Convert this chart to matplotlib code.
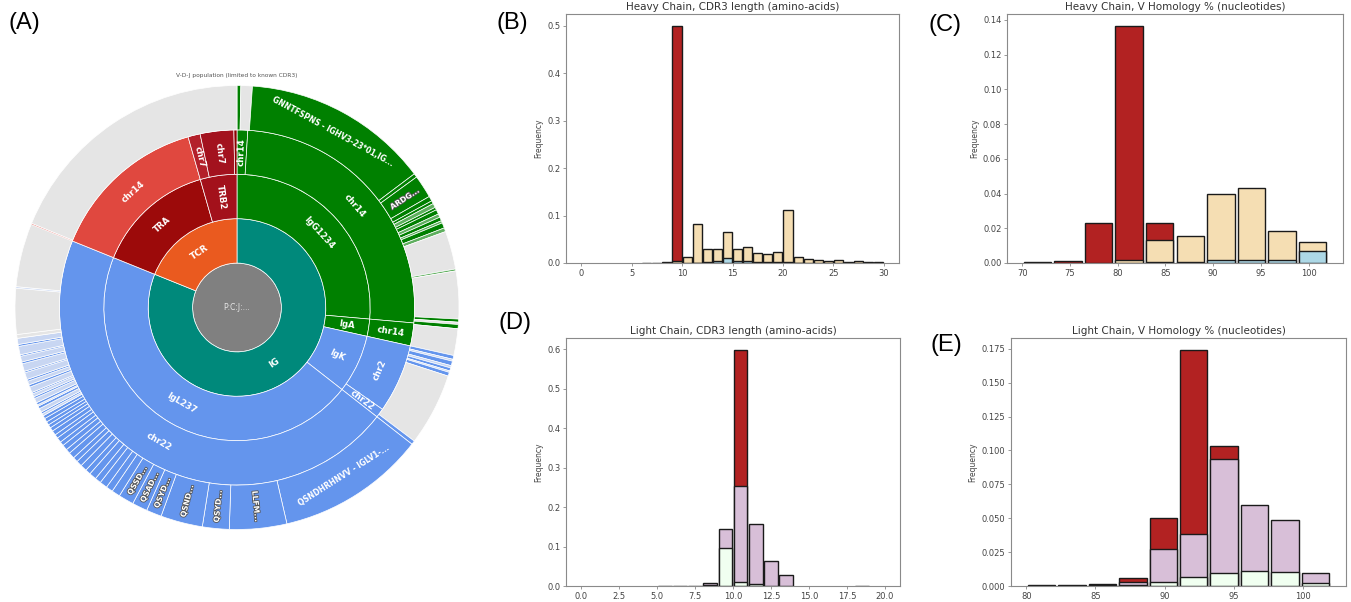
import numpy as np
import matplotlib
matplotlib.use("Agg")
import matplotlib.pyplot as plt
import matplotlib.patheffects as pe
from matplotlib.ticker import FormatStrFormatter

GREEN = "#008000"
BLUE = "#6495ED"
LEAF_COLORS = {"g": GREEN, "lg": "#5FAF5F", "e": "#E5E5E5", "b": BLUE,
               "p": "#C8D6F2", "r": "#E0443C"}

# ---------------- (A) sunburst: angular shares in degrees, clockwise from 12 o'clock
center_label = "P:C:J:..."

ring1_labels = ["IG", "TCR"]
ring1_sizes = [292, 68]
ring1_colors = ["#00897B", "#EA5A1F"]

ring2_labels = ["IgG1234", "IgA", "IgK", "IgL237", "TRA", "TRB2"]
ring2_sizes = [95, 7.5, 25.5, 164, 52, 16]
ring2_colors = [GREEN, GREEN, BLUE, BLUE, "#9C0A0A", "#A3111B"]

ring3_labels = ["chr14", "chr14", "chr14", "chr2", "chr22", "chr22", "chr14", "chr7", "chr7", ""]
ring3_sizes = [3.5, 91.5, 7.5, 22.5, 3, 164, 52, 4, 11, 1]
ring3_colors = [GREEN, GREEN, GREEN, BLUE, BLUE, BLUE, "#E0483F", "#B3202A", "#A3121E", "#8B0000"]

leaf_head_sizes = [1, 3, 49, 1, 6]
leaf_head_colors = ["g", "e", "g", "g", "g"]
leaf_head_labels = ["", "", "GNNTFSPNS - IGHV3-23*01,IG...", "", "ARDG..."]

leaf_green_fringe = [1.3, 0.8, 1.1, 0.7, 1.2, 0.9, 1.0, 0.6, 1.4, 1.0]
leaf_green_colors = ["g", "g", "lg", "g", "g", "lg", "g", "lg", "g", "lg"]

leaf_mid_sizes = [10, 0.5, 12.5, 0.8, 0.6, 1.1, 7, 1.0, 0.5, 1.2, 0.6, 0.8, 0.4, 1.0,
                  19, 1, 39, 15, 7, 11, 4, 4, 4]
leaf_mid_colors = ["e", "lg", "e", "g", "e", "g", "e", "b", "p", "b", "p", "b", "p", "b",
                   "e", "b", "b", "b", "b", "b", "b", "b", "b"]
leaf_mid_labels = [""] * 16 + ["QSNDHRHNVV - IGLV1-...", "LLFM...", "QSYD...", "QSND...",
                               "QSYD...", "QSAD...", "QSSD..."]

leaf_blue_fringe = [2.2, 1.8, 2.0, 1.6, 1.9, 1.4, 1.7, 1.5, 1.3, 1.6,
                    1.2, 1.4, 1.1, 1.3, 1.0, 1.2, 1.0, 0.9, 0.9, 1.0]
leaf_mixed_fringe = [0.8, 0.6, 0.5, 1.0, 0.7, 0.4, 0.6, 1.2, 0.5, 0.8, 0.4, 1.5,
                     0.6, 1.0, 0.5, 1.8, 0.4, 2.0, 0.5, 1.5, 0.4, 2.2, 0.5, 1.6, 1.0]

leaf_tail_sizes = [12, 0.4, 16.6, 0.3, 67.7]
leaf_tail_colors = ["e", "p", "e", "r", "e"]

ring4_sizes = (leaf_head_sizes + leaf_green_fringe + leaf_mid_sizes
               + leaf_blue_fringe + leaf_mixed_fringe + leaf_tail_sizes)
ring4_colors = [LEAF_COLORS[c] for c in
                leaf_head_colors + leaf_green_colors + leaf_mid_colors
                + ["b"] * len(leaf_blue_fringe) + ["b", "p"] * 12 + ["e"]
                + leaf_tail_colors]
ring4_labels = (leaf_head_labels + [""] * len(leaf_green_fringe) + leaf_mid_labels
                + [""] * (len(leaf_blue_fringe) + len(leaf_mixed_fringe) + len(leaf_tail_sizes)))

# ---------------- (B)-(E) histograms
b_edges = np.arange(0, 31)
b_red = [0, 0, 0, 0, 0, 0, 0, 0, 0, 0.500, 0, 0, 0, 0, 0, 0, 0, 0, 0, 0,
         0, 0, 0, 0, 0, 0, 0, 0, 0, 0]
b_tan = [0, 0, 0, 0, 0, 0, 0.001, 0.001, 0.002, 0.004, 0.013, 0.083, 0.030, 0.029, 0.065,
         0.030, 0.033, 0.022, 0.018, 0.024, 0.111, 0.013, 0.008, 0.007, 0.004, 0.006,
         0.003, 0.004, 0.002, 0.002]
b_blue = [0, 0, 0, 0, 0, 0, 0, 0, 0, 0, 0, 0.001, 0.002, 0.004, 0.011, 0.005, 0.004,
          0.003, 0.002, 0.003, 0.003, 0.001, 0, 0, 0, 0, 0, 0, 0, 0]

c_edges = np.linspace(70, 102, 11)
c_red = [0.0005, 0.001, 0.023, 0.1365, 0.023, 0, 0, 0, 0, 0]
c_tan = [0, 0, 0, 0.002, 0.013, 0.0157, 0.0399, 0.0432, 0.0182, 0.0121]
c_blue = [0, 0, 0, 0, 0.0003, 0.0005, 0.002, 0.002, 0.0015, 0.0069]

d_edges = np.arange(0, 21)
d_red = [0, 0, 0, 0, 0, 0, 0, 0, 0, 0, 0.598, 0, 0, 0, 0, 0, 0, 0, 0, 0]
d_thistle = [0, 0, 0, 0, 0, 0.001, 0.001, 0.001, 0.007, 0.144, 0.252, 0.157, 0.064,
             0.027, 0, 0, 0, 0, 0.001, 0]
d_honey = [0, 0, 0, 0, 0, 0, 0, 0, 0.002, 0.097, 0.011, 0.004, 0, 0, 0, 0, 0, 0, 0, 0]

e_edges = np.linspace(80, 102, 11)
e_red = [0, 0, 0, 0.0059, 0.0503, 0.1743, 0.1036, 0, 0, 0]
e_thistle = [0.0005, 0.0007, 0.0015, 0.0029, 0.0275, 0.0385, 0.094, 0.060, 0.0484, 0.0098]
e_honey = [0, 0, 0.0005, 0.001, 0.0027, 0.0069, 0.0093, 0.0113, 0.0106, 0.002]

RING_W = 0.2


def draw_ring(ax, sizes, colors, labels, r_out, fs=6.0, outline=False):
    sizes = np.asarray(sizes, dtype=float)
    ax.pie(sizes, radius=r_out, colors=colors, startangle=90, counterclock=False,
           wedgeprops=dict(width=RING_W, edgecolor="white", linewidth=0.5))
    ends = np.cumsum(sizes)
    mids = 90 - (ends - sizes / 2)
    r_mid = r_out - RING_W / 2
    for lab, size, mid in zip(labels, sizes, mids):
        if not lab:
            continue
        radial = np.deg2rad(size) * r_mid < 0.25
        rot = mid if radial else mid - 90
        rot = (rot + 90) % 180 - 90
        t = ax.text(r_mid * np.cos(np.deg2rad(mid)), r_mid * np.sin(np.deg2rad(mid)), lab,
                    rotation=rot, rotation_mode="anchor", ha="center", va="center",
                    fontsize=fs, color="white", fontweight="bold")
        if outline and radial:
            t.set_path_effects([pe.withStroke(linewidth=1.2, foreground="#555555")])


def hist_panel(ax, edges, layers, colors, title, xticks, yfmt, xfmt=None):
    edges = np.asarray(edges, dtype=float)
    w = edges[1] - edges[0]
    centers = edges[:-1] + w / 2
    top = 0
    for vals, col in zip(layers, colors):
        vals = np.asarray(vals, dtype=float)
        keep = vals > 0
        ax.bar(centers[keep], vals[keep], width=w * 0.9, color=col,
               edgecolor="#1a1a1a", linewidth=1.0)
        top = max(top, vals.max())
    span = edges[-1] - edges[0]
    ax.set_xlim(edges[0] - 0.05 * span, edges[-1] + 0.05 * span)
    ax.set_ylim(0, top * 1.05)
    ax.set_xticks(xticks)
    ax.yaxis.set_major_formatter(FormatStrFormatter(yfmt))
    if xfmt:
        ax.xaxis.set_major_formatter(FormatStrFormatter(xfmt))
    ax.set_title(title, fontsize=7.5, color="#333333", pad=3)
    ax.set_ylabel("Frequency", fontsize=5.5, color="#444444", labelpad=3)
    ax.tick_params(labelsize=6, labelcolor="#444444", color="#888888",
                   length=2.5, width=0.6, pad=1.5)
    for s in ax.spines.values():
        s.set_color("#8a8a8a")
        s.set_linewidth(0.8)


fig = plt.figure(figsize=(13.51, 6.02), dpi=100)

ax_a = fig.add_axes([15 / 1351, 72.5 / 602, 444 / 1351, 444 / 602])
ax_a.pie([1], radius=RING_W, colors=["#808080"],
         wedgeprops=dict(edgecolor="white", linewidth=0.5))
ax_a.text(0, 0, center_label, ha="center", va="center", fontsize=5.5, color="#E8E8E8")
draw_ring(ax_a, ring1_sizes, ring1_colors, ring1_labels, 0.4, fs=6.5)
draw_ring(ax_a, ring2_sizes, ring2_colors, ring2_labels, 0.6, fs=6.2)
draw_ring(ax_a, ring3_sizes, ring3_colors, ring3_labels, 0.8, fs=6.2)
draw_ring(ax_a, ring4_sizes, ring4_colors, ring4_labels, 1.0, fs=5.5, outline=True)
ax_a.set_xlim(-1, 1)
ax_a.set_ylim(-1, 1)
ax_a.axis("off")
ax_a.text(0, 1.047, "V-D-J population (limited to known CDR3)", ha="center", va="center",
          fontsize=4.2, color="#555555")

ax_b = fig.add_axes([566 / 1351, 339 / 602, 333 / 1351, 249 / 602])
hist_panel(ax_b, b_edges, [b_red, b_tan, b_blue], ["#B22222", "#F5DEB3", "#ADD8E6"],
           "Heavy Chain, CDR3 length (amino-acids)", np.arange(0, 31, 5), "%.1f")

ax_c = fig.add_axes([1007 / 1351, 339 / 602, 336 / 1351, 249 / 602])
hist_panel(ax_c, c_edges, [c_red, c_tan, c_blue], ["#B22222", "#F5DEB3", "#ADD8E6"],
           "Heavy Chain, V Homology % (nucleotides)", np.arange(70, 101, 5), "%.2f")

ax_d = fig.add_axes([566 / 1351, 16 / 602, 334 / 1351, 248 / 602])
hist_panel(ax_d, d_edges, [d_red, d_thistle, d_honey], ["#B22222", "#D8BFD8", "#F0FFF0"],
           "Light Chain, CDR3 length (amino-acids)", np.arange(0, 20.1, 2.5), "%.1f", "%.1f")

ax_e = fig.add_axes([1011 / 1351, 16 / 602, 335 / 1351, 248 / 602])
hist_panel(ax_e, e_edges, [e_red, e_thistle, e_honey], ["#B22222", "#D8BFD8", "#F0FFF0"],
           "Light Chain, V Homology % (nucleotides)", np.arange(80, 101, 5), "%.3f")

for lab, x, y in [("(A)", 8, 23), ("(B)", 497, 23), ("(C)", 928, 25),
                  ("(D)", 498, 323), ("(E)", 930, 345)]:
    fig.text(x / 1351, 1 - y / 602, lab, fontsize=17, ha="left", va="center",
             color="black", family="Liberation Sans")

fig.savefig("out.png", dpi=100)
plt.close(fig)
